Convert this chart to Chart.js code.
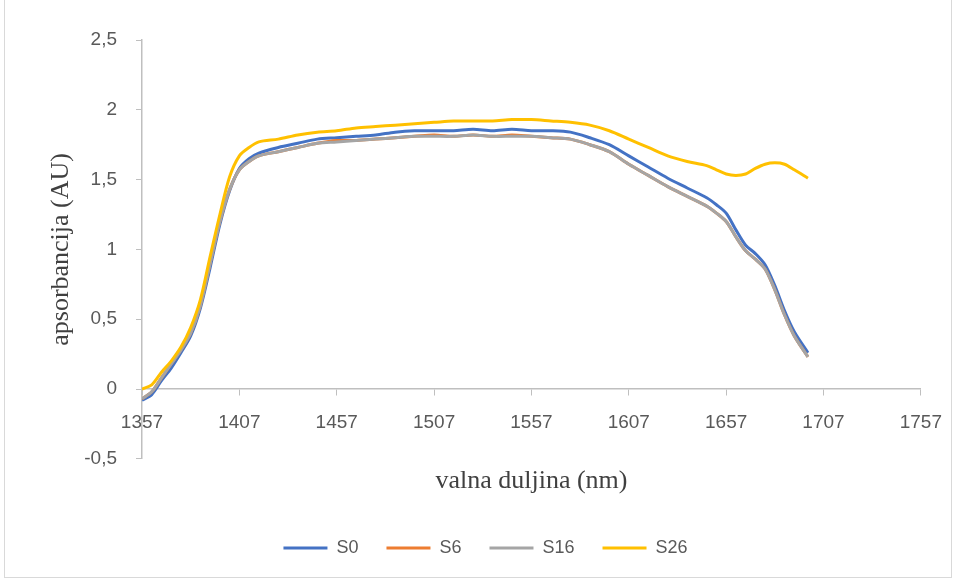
<!DOCTYPE html>
<html lang="hr">
<head>
    <meta charset="UTF-8">
    <title>Apsorbancija</title>
    <style>
        html, body { margin: 0; padding: 0; background: #fff; }
        #wrap { position: relative; width: 958px; height: 581px; }
        #frame { position: absolute; left: 4px; top: -1px; width: 946px; height: 577px; border: 1px solid #d9d9d9; pointer-events: none; }
    </style>
</head>
<body>
    <div id="wrap">
        <canvas id="chart" width="958" height="581"></canvas>
        <div id="frame"></div>
    </div>

    <script src="https://cdn.jsdelivr.net/npm/chart.js@4/dist/chart.umd.min.js"></script>

    <script>
        // valna duljina (nm)
        const wavelengths = [1357, 1362, 1367, 1372, 1377, 1382, 1387, 1392, 1397, 1402, 1407, 1412, 1417,
            1427, 1437, 1447, 1457, 1467, 1477, 1487, 1497, 1507, 1517, 1527, 1537, 1547, 1557, 1567, 1577,
            1587, 1597, 1607, 1617, 1627, 1637, 1647, 1652, 1657, 1662, 1667, 1672, 1677, 1682, 1687, 1692, 1699];

        const s0 = [-0.08, -0.04, 0.06, 0.15, 0.26, 0.38, 0.58, 0.87, 1.18, 1.42, 1.58, 1.65, 1.69,
            1.73, 1.76, 1.79, 1.80, 1.81, 1.82, 1.84, 1.85, 1.85, 1.85, 1.86, 1.85, 1.86, 1.85, 1.85, 1.84,
            1.80, 1.75, 1.67, 1.59, 1.51, 1.44, 1.37, 1.32, 1.26, 1.14, 1.03, 0.97, 0.89, 0.74, 0.56, 0.41, 0.26];

        const s6 = [-0.07, -0.02, 0.08, 0.18, 0.28, 0.40, 0.60, 0.90, 1.20, 1.43, 1.57, 1.63, 1.67,
            1.70, 1.73, 1.76, 1.78, 1.78, 1.79, 1.80, 1.81, 1.82, 1.81, 1.82, 1.81, 1.82, 1.81, 1.80, 1.79,
            1.75, 1.70, 1.61, 1.53, 1.45, 1.38, 1.31, 1.26, 1.20, 1.09, 0.99, 0.93, 0.86, 0.71, 0.53, 0.38, 0.23];

        const s16 = [-0.07, -0.02, 0.08, 0.18, 0.28, 0.40, 0.60, 0.90, 1.20, 1.43, 1.57, 1.63, 1.67,
            1.70, 1.73, 1.76, 1.77, 1.78, 1.79, 1.80, 1.81, 1.81, 1.81, 1.82, 1.81, 1.81, 1.81, 1.80, 1.79,
            1.75, 1.70, 1.61, 1.53, 1.45, 1.38, 1.31, 1.26, 1.20, 1.09, 0.99, 0.93, 0.86, 0.71, 0.53, 0.38, 0.23];

        const s26 = [0.00, 0.03, 0.12, 0.20, 0.30, 0.44, 0.64, 0.95, 1.25, 1.52, 1.67, 1.73, 1.77,
            1.79, 1.82, 1.84, 1.85, 1.87, 1.88, 1.89, 1.90, 1.91, 1.92, 1.92, 1.92, 1.93, 1.93, 1.92, 1.91,
            1.89, 1.85, 1.79, 1.73, 1.67, 1.63, 1.60, 1.57, 1.54, 1.53, 1.54, 1.58, 1.61, 1.62, 1.61, 1.57, 1.51];

        const xTicks = [1357, 1407, 1457, 1507, 1557, 1607, 1657, 1707, 1757];

        const axisGray = '#bfbfbf';
        const textGray = '#595959';

        function series(label, values, color, order) {
            return {
                label: label,
                data: wavelengths.map((w, i) => ({ x: w, y: values[i] })),
                borderColor: color,
                backgroundColor: color,
                borderWidth: 3,
                pointRadius: 0,
                tension: 0.3,
                order: order
            };
        }

        const config = {
            type: 'line',
            data: {
                datasets: [
                    series('S0', s0, '#4472c4', 4),
                    series('S6', s6, '#ed7d31', 3),
                    series('S16', s16, '#a5a5a5', 2),
                    series('S26', s26, '#ffc000', 1)
                ]
            },
            options: {
                responsive: false,
                animation: false,
                layout: { padding: { left: 44, right: 31, top: 40, bottom: 14 } },
                scales: {
                    x: {
                        type: 'linear',
                        min: 1357,
                        max: 1757,
                        position: { y: 0 },
                        afterBuildTicks: s => { s.ticks = xTicks.map(v => ({ value: v })); },
                        grid: { drawOnChartArea: false, drawTicks: true, tickLength: 6, color: axisGray },
                        border: { color: axisGray, width: 1.5 },
                        ticks: {
                            callback: v => String(v),
                            color: textGray,
                            font: { family: 'Liberation Sans', size: 19 },
                            padding: 16,
                            maxRotation: 0
                        }
                    },
                    y: {
                        min: -0.5,
                        max: 2.5,
                        afterFit: s => { s.width = 98; },
                        grid: { drawOnChartArea: false, drawTicks: true, tickLength: 6, color: axisGray },
                        border: { color: axisGray, width: 1.5 },
                        ticks: {
                            stepSize: 0.5,
                            callback: v => String(v).replace('.', ','),
                            color: textGray,
                            font: { family: 'Liberation Sans', size: 19 },
                            padding: 19
                        },
                        title: {
                            display: true,
                            text: 'apsorbancija (AU)',
                            color: '#404040',
                            font: { family: 'Liberation Serif', size: 26 },
                            padding: { top: 2, bottom: 0 }
                        }
                    }
                },
                plugins: {
                    title: {
                        display: true,
                        position: 'bottom',
                        fullSize: false,
                        weight: 500,
                        text: 'valna duljina (nm)',
                        color: '#404040',
                        font: { family: 'Liberation Serif', size: 26, weight: 'normal' },
                        padding: { top: 7, bottom: 14 }
                    },
                    legend: {
                        position: 'bottom',
                        labels: {
                            usePointStyle: true,
                            pointStyle: 'line',
                            pointStyleWidth: 44,
                            padding: 28,
                            color: textGray,
                            font: { family: 'Liberation Sans', size: 18 },
                            sort: (a, b) => a.datasetIndex - b.datasetIndex
                        }
                    },
                    tooltip: { enabled: false }
                }
            }
        };

        new Chart(document.getElementById('chart').getContext('2d'), config);
    </script>
</body>
</html>
